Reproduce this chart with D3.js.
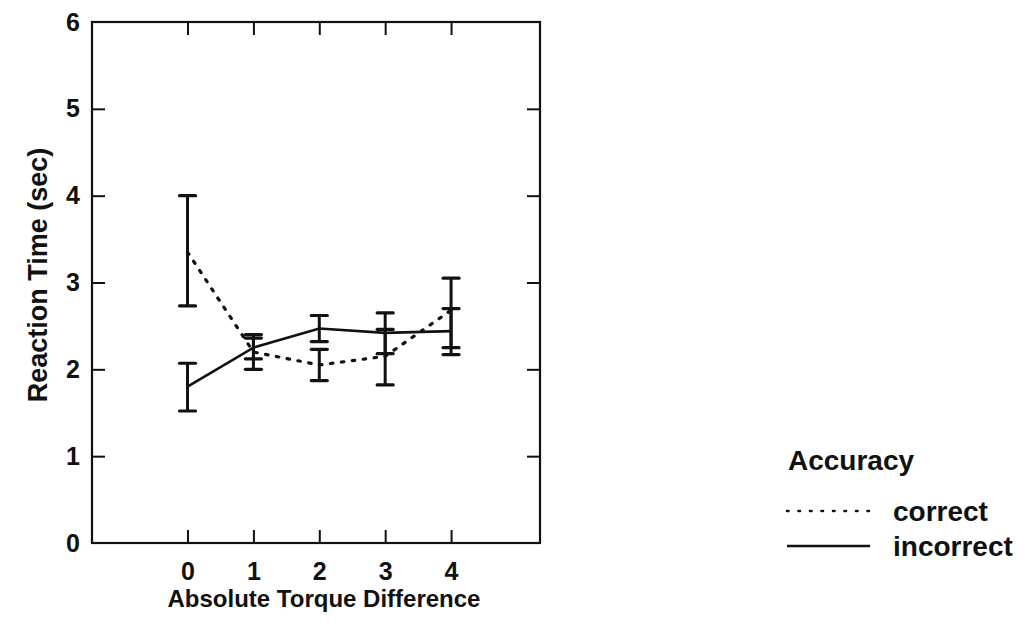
<!DOCTYPE html>
<html>
<head>
<meta charset="utf-8">
<script src="https://cdn.jsdelivr.net/npm/d3@7"></script>
<style>
  html, body { margin: 0; padding: 0; background: #fff; }
  svg { display: block; }
  text { font-family: "Liberation Sans", Arial, Helvetica, sans-serif; font-weight: bold; fill: #111; }
</style>
</head>
<body>
<svg id="chart" width="1036" height="627"></svg>
<script>
// Absolute torque difference levels
const torqueLevels = [0, 1, 2, 3, 4];

// Mean reaction time (sec) and error bar bounds for each accuracy group
const correctMean  = [3.35, 2.20, 2.05, 2.15, 2.68];
const correctLow   = [2.73, 2.00, 1.87, 1.82, 2.25];
const correctHigh  = [4.00, 2.36, 2.23, 2.46, 3.05];

const incorrectMean = [1.80, 2.25, 2.47, 2.42, 2.44];
const incorrectLow  = [1.52, 2.12, 2.32, 2.18, 2.17];
const incorrectHigh = [2.07, 2.40, 2.62, 2.65, 2.70];

const yTicks = [0, 1, 2, 3, 4, 5, 6];
const legendTitle = "Accuracy";
const seriesNames = ["correct", "incorrect"];

const svg = d3.select("#chart");
const frame = { left: 92, right: 540, top: 22, bottom: 543 };

const x = d3.scaleLinear().domain([-1.45, 5.35]).range([frame.left, frame.right]);
const y = d3.scaleLinear().domain([0, 6]).range([frame.bottom, frame.top]);

const ink = "#111";
const tickFont = "25px";

// plot frame
svg.append("rect")
  .attr("x", frame.left).attr("y", frame.top)
  .attr("width", frame.right - frame.left).attr("height", frame.bottom - frame.top)
  .attr("fill", "none").attr("stroke", ink).attr("stroke-width", 2.2);

const tickLen = 13;
const fmt = d3.format("d");

// bottom axis: inward ticks and labels
const xBottom = svg.append("g").attr("transform", `translate(0,${frame.bottom})`)
  .call(d3.axisBottom(x).tickValues(torqueLevels).tickFormat(fmt).tickSizeInner(-tickLen).tickSizeOuter(0).tickPadding(19));
// top axis: inward ticks only
const xTop = svg.append("g").attr("transform", `translate(0,${frame.top})`)
  .call(d3.axisTop(x).tickValues(torqueLevels).tickSizeInner(-tickLen).tickSizeOuter(0).tickFormat(""));
// left axis: inward ticks and labels
const yLeft = svg.append("g").attr("transform", `translate(${frame.left},0)`)
  .call(d3.axisLeft(y).tickValues(yTicks).tickFormat(fmt).tickSizeInner(-tickLen).tickSizeOuter(0).tickPadding(12));
// right axis: inward ticks only
const yRight = svg.append("g").attr("transform", `translate(${frame.right},0)`)
  .call(d3.axisRight(y).tickValues(yTicks).tickSizeInner(-tickLen).tickSizeOuter(0).tickFormat(""));

[xBottom, xTop, yLeft, yRight].forEach(g => {
  g.select(".domain").remove();
  g.selectAll(".tick line").attr("stroke", ink).attr("stroke-width", 2);
  g.selectAll(".tick text").attr("fill", ink).style("font-size", tickFont)
    .style("font-family", '"Liberation Sans", Arial, sans-serif').style("font-weight", "bold");
});
// y ticks 0 and 6 sit on the frame edges; drop their marks
yLeft.selectAll(".tick").filter(d => d === 0 || d === 6).select("line").remove();
yRight.selectAll(".tick").filter(d => d === 0 || d === 6).select("line").remove();

// axis titles
svg.append("text")
  .attr("x", 324).attr("y", 607)
  .attr("text-anchor", "middle").style("font-size", "24px")
  .text("Absolute Torque Difference");

svg.append("text")
  .attr("transform", `translate(47,275) rotate(-90)`)
  .attr("text-anchor", "middle").style("font-size", "27px")
  .text("Reaction Time (sec)");

// series
const series = [
  { name: seriesNames[0], mean: correctMean, low: correctLow, high: correctHigh, dash: "2.5,8.5" },
  { name: seriesNames[1], mean: incorrectMean, low: incorrectLow, high: incorrectHigh, dash: null }
];

const line = d3.line().x(d => x(d.t)).y(d => y(d.v));

series.forEach(s => {
  const pts = torqueLevels.map((t, i) => ({ t, v: s.mean[i] }));
  svg.append("path")
    .datum(pts)
    .attr("d", line)
    .attr("fill", "none")
    .attr("stroke", ink)
    .attr("stroke-width", s.dash ? 3.2 : 2.6)
    .attr("stroke-linecap", s.dash ? "round" : "butt")
    .attr("stroke-dasharray", s.dash);

  const bars = svg.append("g");
  torqueLevels.forEach((t, i) => {
    const cx = x(t);
    bars.append("line")
      .attr("x1", cx).attr("x2", cx)
      .attr("y1", y(s.low[i])).attr("y2", y(s.high[i]))
      .attr("stroke", ink).attr("stroke-width", 3);
    [s.low[i], s.high[i]].forEach(v => {
      bars.append("line")
        .attr("x1", cx - 8).attr("x2", cx + 8)
        .attr("y1", y(v)).attr("y2", y(v))
        .attr("stroke", ink).attr("stroke-width", 3.2)
        .attr("stroke-linecap", "round");
    });
  });
});

// legend
const legend = svg.append("g");
legend.append("text").attr("x", 788).attr("y", 470).style("font-size", "28px").text(legendTitle);
series.forEach((s, i) => {
  const ly = 511 + i * 35;
  legend.append("line")
    .attr("x1", 787).attr("x2", 870).attr("y1", ly).attr("y2", ly)
    .attr("stroke", ink).attr("stroke-width", s.dash ? 2.6 : 2.4)
    .attr("stroke-linecap", s.dash ? "round" : "butt")
    .attr("stroke-dasharray", s.dash ? "1.5,10" : null);
  legend.append("text").attr("x", 893).attr("y", ly + 10).style("font-size", "28px").text(s.name);
});
</script>
</body>
</html>
